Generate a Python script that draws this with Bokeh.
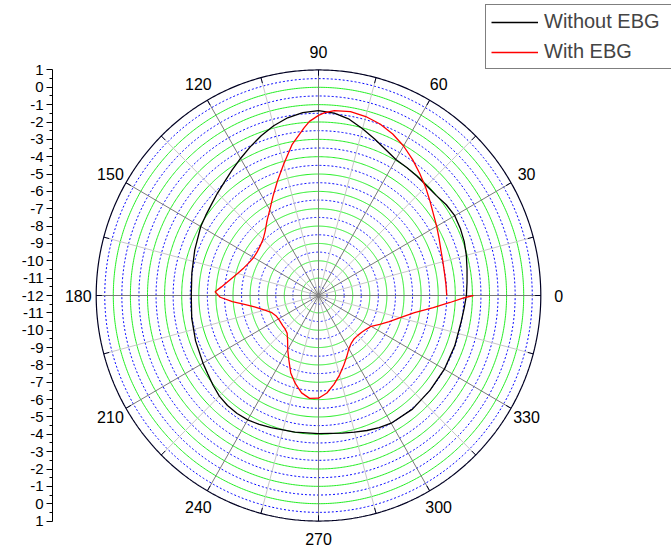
import numpy as np
from bokeh.plotting import figure
from bokeh.models import LinearAxis, FixedTicker, Legend, LegendItem, Range1d
from bokeh.core.properties import value
from bokeh.embed import file_html
from bokeh.resources import INLINE

# ---------------- data ----------------
r_min, r_max = -12, 1

black_angles = [0, 5, 10, 15, 20, 25, 30, 35, 40, 45, 50, 55, 60, 65, 70, 75, 80, 85,
                90, 95, 100, 105, 110, 115, 120, 125, 130, 135, 140, 145, 150, 160,
                170, 180, 190, 200, 210, 215, 220, 225, 230, 235, 240, 245, 250, 260,
                270, 280, 285, 290, 295, 300, 310, 320, 330, 340, 350, 355, 360]
black_db = [-3.35, -3.28, -3.18, -3.05, -2.93, -2.85, -2.8, -2.88, -3.02, -3.05, -3.03,
            -3.0, -2.95, -2.72, -2.4, -2.05, -1.68, -1.45, -1.35, -1.42, -1.6, -1.87,
            -2.2, -2.55, -2.88, -3.18, -3.45, -3.65, -3.83, -3.95, -4.05, -4.3, -4.48,
            -4.56, -4.47, -4.35, -4.2, -4.1, -3.95, -3.8, -3.72, -3.7, -3.72, -3.8,
            -3.9, -4.0, -4.04, -3.95, -3.85, -3.72, -3.6, -3.5, -3.45, -3.49, -3.5,
            -3.52, -3.52, -3.45, -3.35]

red_angles = [0, 5, 10, 15, 20, 25, 30, 35, 40, 45, 50, 55, 60, 65, 70, 75, 80, 85, 88,
              90, 93, 95, 100, 105, 110, 115, 120, 125, 130, 135, 140, 145, 150, 155,
              160, 165, 170, 175, 178, 181, 184, 187, 190, 195, 200, 205, 210, 220,
              225, 230, 235, 240, 245, 250, 255, 260, 265, 270, 275, 280, 285, 290,
              295, 300, 305, 310, 315, 320, 325, 330, 335, 340, 345, 350, 354, 357,
              359, 360]
red_db = [-4.5, -4.52, -4.52, -4.47, -4.38, -4.22, -4.02, -3.8, -3.5, -3.15, -2.8,
          -2.42, -2.05, -1.73, -1.48, -1.32, -1.24, -1.3, -1.45, -1.62, -1.95, -2.3,
          -3.15, -4.15, -4.98, -5.7, -6.3, -6.75, -7.15, -7.42, -7.55, -7.62, -7.62,
          -7.52, -7.35, -7.1, -6.75, -6.3, -5.95, -6.25, -6.95, -7.7, -8.2, -8.75,
          -9.1, -9.25, -9.3, -9.28, -9.25, -9.15, -8.85, -8.4, -7.9, -7.25, -6.75,
          -6.3, -6.05, -6.08, -6.36, -6.8, -7.25, -7.7, -8.1, -8.45, -8.65, -8.75,
          -8.75, -8.7, -8.6, -8.45, -8.05, -7.6, -7.05, -6.3, -5.25, -4.3, -3.55, -2.94]

angle_ticks = list(range(0, 360, 30))
angle_labels = [str(a) for a in angle_ticks]
radial_ticks = list(range(-13, 14))
radial_labels = [str(abs(k) - 12) for k in radial_ticks]
series_names = ["Without EBG", "With EBG"]


def to_xy(ang, db):
    a = np.deg2rad(np.asarray(ang, dtype=float))
    r = np.asarray(db, dtype=float) - r_min
    return r * np.cos(a), r * np.sin(a)


# ---------------- layout ----------------
W, H = 671, 548
BL = 52
KX, KY = 17.1, 17.35
CX, CY = 318, 295
x0 = -(CX - BL) / KX
x1 = x0 + (W - BL) / KX
y1 = CY / KY
y0 = y1 - H / KY

p = figure(width=W, height=H, x_range=Range1d(x0, x1), y_range=Range1d(y0, y1),
           x_axis_type=None, y_axis_type=None, toolbar_location=None,
           output_backend="svg", title=None,
           min_border_left=BL, min_border_right=0, min_border_top=0, min_border_bottom=0)
p.outline_line_color = None
p.background_fill_color = "white"

R = r_max - r_min
th = np.linspace(0, 2 * np.pi, 721)

# blue dotted circles at half units
half = [k + 0.5 for k in range(0, R)]
p.multi_line([list(k * np.cos(th)) for k in half], [list(k * np.sin(th)) for k in half],
             line_color="#0000ff", line_width=1, line_dash="2 2")
# green solid circles at integer units
full = list(range(1, R))
p.multi_line([list(k * np.cos(th)) for k in full], [list(k * np.sin(th)) for k in full],
             line_color="#22ee22", line_width=1)

# radial grid lines
minor_ang = np.deg2rad(np.arange(15, 360, 30))
major_ang = np.deg2rad(np.array(angle_ticks, dtype=float))
p.segment(0, 0, R * np.cos(minor_ang), R * np.sin(minor_ang), line_color="#c8c8c8", line_width=1)
p.segment(0, 0, R * np.cos(major_ang), R * np.sin(major_ang), line_color="#7a7a7a", line_width=1)

# outer circle and ticks
p.line(R * np.cos(th), R * np.sin(th), line_color="#000022", line_width=1.2)
tick_ang = np.deg2rad(np.arange(0, 360, 15))
p.segment((R - 0.33) * np.cos(tick_ang), (R - 0.33) * np.sin(tick_ang),
          R * np.cos(tick_ang), R * np.sin(tick_ang), line_color="#000022", line_width=1)

# angle labels
RL = R + 1.05
la = np.deg2rad(np.array(angle_ticks, dtype=float))
p.text(RL * np.cos(la), RL * np.sin(la), text=angle_labels, text_align="center",
       text_baseline="middle", text_font=value("Liberation Sans"),
       text_font_size="16px", text_color="black")

# curves
bx, by = to_xy(black_angles, black_db)
rx, ry = to_xy(red_angles, red_db)
rb = p.line(bx, by, line_color="black", line_width=1.3)
rr = p.line(rx, ry, line_color="#ff0000", line_width=1.3)

# left radial axis
ax = LinearAxis(ticker=FixedTicker(ticks=radial_ticks,
                                   minor_ticks=[k + 0.5 for k in range(-13, 13)]),
                major_label_overrides={k: lab for k, lab in zip(radial_ticks, radial_labels)},
                bounds=(-13, 13))
ax.major_tick_in = 0
ax.major_tick_out = 6
ax.minor_tick_in = 0
ax.minor_tick_out = 3
ax.major_label_standoff = 3
ax.major_label_text_font = "Liberation Sans"
ax.major_label_text_font_size = "15px"
ax.major_label_text_color = "black"
ax.axis_line_color = "black"
ax.major_tick_line_color = "black"
ax.minor_tick_line_color = "black"
p.add_layout(ax, "left")

legend = Legend(items=[LegendItem(label=series_names[0], renderers=[rb]),
                       LegendItem(label=series_names[1], renderers=[rr])],
                location=(433, 479), padding=5, spacing=7, margin=0,
                glyph_width=47, glyph_height=20, label_height=20, label_standoff=6,
                label_width=130,
                label_text_font="Liberation Sans", label_text_font_size="20px",
                border_line_color="black", border_line_width=1,
                background_fill_color="white", background_fill_alpha=1)
p.add_layout(legend)

open("out.html", "w").write(file_html(p, INLINE))
